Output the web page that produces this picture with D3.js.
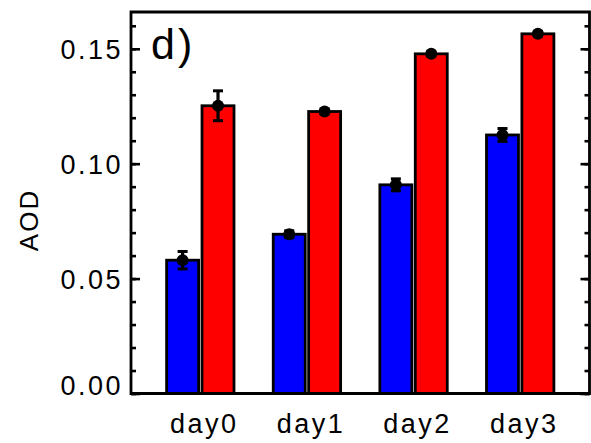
<!DOCTYPE html>
<html>
<head>
<meta charset="utf-8">
<script src="https://cdn.jsdelivr.net/npm/d3@7"></script>
<style>
  html, body { margin: 0; padding: 0; background: #fff; }
  svg text { font-family: "Liberation Sans", Arial, Helvetica, sans-serif; fill: #000; }
</style>
</head>
<body>
<svg id="chart" width="591" height="443"></svg>
<script>
// Aerosol optical depth per day, two cases
const categories = ["day0", "day1", "day2", "day3"];
const blueValues = [0.058, 0.0693, 0.0908, 0.1125];
const blueErrors = [0.0038, 0.0015, 0.0026, 0.0028];
const redValues  = [0.1252, 0.1227, 0.1478, 0.1565];
const redErrors  = [0.0065, 0.001, 0.001, 0.001];
const majorTicks = [0, 0.05, 0.10, 0.15];
const minorTicks = d3.range(0, 0.165, 0.01);
const yLabel = "AOD";
const panelLabel = "d)";

const svg = d3.select("#chart");
const plotLeft = 131, plotRight = 589.5, plotTop = 12, plotBottom = 393.5;

const x = d3.scalePoint().domain(categories).range([plotLeft, plotRight]).padding(0.65);
const y = d3.scaleLinear().domain([0, 0.166]).range([plotBottom, plotTop]);

const step = x.step();
const barW = step * 0.30;
const gap = step * 0.016;

const series = [
  { name: "blue", color: "#0000ff", values: blueValues, errors: blueErrors, off: -gap - barW },
  { name: "red",  color: "#ff0000", values: redValues,  errors: redErrors,  off: gap }
];

// bars
series.forEach(s => {
  const g = svg.append("g");
  g.selectAll("rect").data(categories).join("rect")
    .attr("x", (c) => x(c) + s.off)
    .attr("y", (c, i) => y(s.values[i]))
    .attr("width", barW)
    .attr("height", (c, i) => y(0) - y(s.values[i]))
    .attr("fill", s.color)
    .attr("stroke", "#000")
    .attr("stroke-width", 2.8);
});

// error bars and mean markers
series.forEach(s => {
  const g = svg.append("g");
  categories.forEach((c, i) => {
    const cx = x(c) + s.off + barW / 2;
    const v = s.values[i], e = s.errors[i];
    g.append("line").attr("x1", cx).attr("x2", cx)
      .attr("y1", y(v - e)).attr("y2", y(v + e))
      .attr("stroke", "#000").attr("stroke-width", 3.2);
    [v - e, v + e].forEach(t => {
      g.append("line").attr("x1", cx - 5).attr("x2", cx + 5)
        .attr("y1", y(t)).attr("y2", y(t))
        .attr("stroke", "#000").attr("stroke-width", 3);
    });
    g.append("circle").attr("cx", cx).attr("cy", y(v)).attr("r", 6).attr("fill", "#000");
  });
});

// frame: left and right axes with inward ticks, top and bottom lines
const frame = svg.append("g").attr("stroke", "#000").attr("stroke-width", 2.8).attr("fill", "none");
frame.append("path")
  .attr("d", `M${plotLeft},${plotBottom}H${plotRight}V${plotTop}H${plotLeft}Z`)
  .attr("stroke-linejoin", "miter");

const axL = d3.axisRight(y).tickValues(minorTicks).tickFormat("")
  .tickSize(5).tickSizeOuter(0);
const axLMajor = d3.axisRight(y).tickValues(majorTicks).tickFormat("")
  .tickSize(9).tickSizeOuter(0);
const axR = d3.axisLeft(y).tickValues(minorTicks).tickFormat("")
  .tickSize(5).tickSizeOuter(0);
const axRMajor = d3.axisLeft(y).tickValues(majorTicks).tickFormat("")
  .tickSize(9).tickSizeOuter(0);

[[axL, plotLeft], [axLMajor, plotLeft], [axR, plotRight], [axRMajor, plotRight]].forEach(([ax, px]) => {
  const g = svg.append("g").attr("transform", `translate(${px},0)`).call(ax);
  g.select(".domain").remove();
  g.selectAll(".tick line").attr("stroke", "#000").attr("stroke-width", 2.6);
});

// y tick labels
svg.append("g").selectAll("text").data(majorTicks).join("text")
  .attr("x", 123)
  .attr("y", d => y(d) + (d === 0 ? -8 : 1))
  .attr("text-anchor", "end")
  .attr("dominant-baseline", "central")
  .attr("font-size", 27)
  .attr("letter-spacing", 2.5)
  .text(d => d3.format(".2f")(d));

// category labels
svg.append("g").selectAll("text").data(categories).join("text")
  .attr("x", c => x(c) + 4)
  .attr("y", 433)
  .attr("text-anchor", "middle")
  .attr("font-size", 27)
  .attr("letter-spacing", 2.5)
  .text(c => c);

// axis title
svg.append("text")
  .attr("transform", "translate(38,220) rotate(-90)")
  .attr("text-anchor", "middle")
  .attr("font-size", 26)
  .attr("letter-spacing", 2)
  .text(yLabel);

// panel label
svg.append("text")
  .attr("x", 151).attr("y", 59)
  .attr("font-size", 43)
  .attr("letter-spacing", 3)
  .text(panelLabel);
</script>
</body>
</html>
